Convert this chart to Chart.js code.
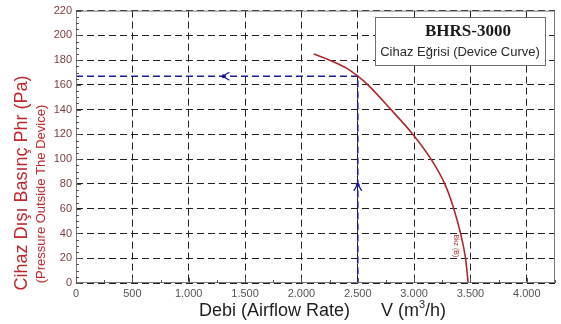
<!DOCTYPE html>
<html lang="tr">
<head>
  <meta charset="UTF-8">
  <title>BHRS-3000 Cihaz Eğrisi</title>
  <script src="https://cdn.jsdelivr.net/npm/chart.js"></script>
  <style>
    html, body { margin: 0; padding: 0; background: #ffffff; }
    #wrap { width: 561px; height: 324px; position: relative; }
  </style>
</head>
<body>
  <div id="wrap"><canvas id="chart"></canvas></div>

  <script>
    // cihaz egrisi (debi m3/h, basinc Pa)
    const curveFlow = [2110, 2250, 2400, 2500, 2590, 2795, 2990, 3150, 3272, 3352, 3412, 3456, 3480];
    const curvePressure = [185, 180, 173.5, 167, 160, 140, 120, 100, 80, 60, 40, 20, 0];

    // calisma noktasi
    const opFlow = [0, 2500, 2500];
    const opPressure = [167, 167, 0];
    const arrowLeft = [1300, 167];
    const arrowUp = [2500, 80];

    // eksen etiketleri
    const xTicks = [0, 500, 1000, 1500, 2000, 2500, 3000, 3500, 4000];
    const yTicks = [0, 20, 40, 60, 80, 100, 120, 140, 160, 180, 200, 220];
    const xMax = 4250, xMinor = 250;
    const yMax = 220, yMinor = 5;

    const redText = '#c0272d';
    const fmt = v => v.toLocaleString('de-DE');

    const extras = {
      id: 'extras',
      afterDatasetsDraw(chart) {
        const { ctx, chartArea: a, scales: { x, y } } = chart;
        ctx.save();
        // frame
        ctx.strokeStyle = '#7a7a7a';
        ctx.lineWidth = 1;
        ctx.setLineDash([]);
        ctx.strokeRect(a.left + 0.5, a.top + 0.5, a.right - a.left - 1, a.bottom - a.top - 1);
        // minor ticks
        ctx.strokeStyle = '#555';
        ctx.beginPath();
        for (let v = 0; v <= xMax; v += xMinor) {
          const px = Math.round(x.getPixelForValue(v)) + 0.5;
          const len = xTicks.includes(v) ? 5 : 3;
          ctx.moveTo(px, a.bottom); ctx.lineTo(px, a.bottom - len);
        }
        for (let v = 0; v <= yMax; v += yMinor) {
          const py = Math.round(y.getPixelForValue(v)) + 0.5;
          const len = yTicks.includes(v) ? 5 : 3;
          ctx.moveTo(a.left, py); ctx.lineTo(a.left + len, py);
        }
        ctx.stroke();

        // arrows on operating point lines
        ctx.strokeStyle = '#1c1c9a';
        ctx.fillStyle = '#1c1c9a';
        ctx.lineWidth = 1.3;
        let ax = x.getPixelForValue(arrowLeft[0]), ay = y.getPixelForValue(arrowLeft[1]);
        ctx.beginPath();
        ctx.moveTo(ax + 7, ay - 4); ctx.lineTo(ax, ay); ctx.lineTo(ax + 7, ay + 4);
        ctx.stroke();
        ctx.beginPath(); ctx.arc(ax + 1, ay, 2, 0, Math.PI * 2); ctx.fill();
        ax = x.getPixelForValue(arrowUp[0]); ay = y.getPixelForValue(arrowUp[1]);
        ctx.beginPath();
        ctx.moveTo(ax - 4, ay + 7); ctx.lineTo(ax, ay); ctx.lineTo(ax + 4, ay + 7);
        ctx.stroke();
        ctx.beginPath(); ctx.arc(ax, ay + 1, 2, 0, Math.PI * 2); ctx.fill();

        // small label next to curve
        ctx.save();
        ctx.translate(x.getPixelForValue(3370), y.getPixelForValue(30));
        ctx.rotate(Math.PI / 2);
        ctx.fillStyle = '#b03030';
        ctx.font = '7px "Liberation Sans"';
        ctx.textAlign = 'center';
        ctx.textBaseline = 'middle';
        ctx.fillText('Bkz (B)', 0, 0);
        ctx.restore();

        // legend box
        const bx = 375, by = 17, bw = 170, bh = 48;
        ctx.fillStyle = '#ffffff';
        ctx.fillRect(bx, by, bw, bh);
        ctx.strokeStyle = '#6e6e6e';
        ctx.lineWidth = 1;
        ctx.strokeRect(bx + 0.5, by + 0.5, bw, bh);
        ctx.textAlign = 'center';
        ctx.textBaseline = 'middle';
        ctx.fillStyle = '#1a1a1a';
        ctx.font = 'bold 17px "Liberation Serif"';
        ctx.fillText('BHRS-3000', bx + bw / 2 + 8, by + 15);
        ctx.font = '13px "Liberation Sans"';
        ctx.fillStyle = '#2a2a2a';
        ctx.fillText('Cihaz Eğrisi (Device Curve)', bx + bw / 2, by + 35);

        // axis titles
        ctx.fillStyle = redText;
        ctx.save();
        ctx.translate(22, 183);
        ctx.rotate(-Math.PI / 2);
        ctx.font = '18px "Liberation Sans"';
        ctx.fillText('Cihaz Dışı Basınç Phr (Pa)', 0, 0);
        ctx.restore();
        ctx.save();
        ctx.translate(41, 194);
        ctx.rotate(-Math.PI / 2);
        ctx.font = '13px "Liberation Sans"';
        ctx.fillText('(Pressure Outside The Device)', 0, 0);
        ctx.restore();

        ctx.fillStyle = '#1e1e1e';
        ctx.font = '18px "Liberation Sans"';
        ctx.textAlign = 'left';
        ctx.fillText('Debi (Airflow Rate)', 199, 311);
        ctx.fillText('V (m', 381, 311);
        const w = ctx.measureText('V (m').width;
        ctx.font = '11px "Liberation Sans"';
        ctx.fillText('3', 381 + w, 305);
        ctx.font = '18px "Liberation Sans"';
        ctx.fillText('/h)', 381 + w + 6, 311);
        ctx.restore();
      }
    };

    const ctx = document.getElementById('chart').getContext('2d');
    new Chart(ctx, {
      type: 'line',
      data: {
        datasets: [
          {
            label: 'Cihaz Eğrisi',
            data: curveFlow.map((f, i) => ({ x: f, y: curvePressure[i] })),
            borderColor: '#b3262c',
            borderWidth: 1.6,
            pointRadius: 0,
            cubicInterpolationMode: 'monotone',
            fill: false
          },
          {
            label: 'Çalışma noktası',
            data: opFlow.map((f, i) => ({ x: f, y: opPressure[i] })),
            borderColor: '#1c1c9a',
            borderWidth: 1.6,
            borderDash: [7, 4],
            pointRadius: 0,
            tension: 0,
            fill: false
          }
        ]
      },
      options: {
        responsive: true,
        maintainAspectRatio: false,
        animation: false,
        layout: { padding: { top: 2, right: 6, left: 0, bottom: 0 } },
        plugins: {
          legend: { display: false },
          tooltip: { enabled: false }
        },
        scales: {
          x: {
            type: 'linear',
            min: 0,
            max: xMax,
            afterFit: s => { s.height = 41; },
            afterBuildTicks: s => { s.ticks = xTicks.map(v => ({ value: v })); },
            ticks: {
              autoSkip: false,
              padding: 4,
              color: '#555555',
              font: { family: 'Liberation Sans', size: 11 },
              maxRotation: 0,
              callback: v => fmt(v)
            },
            grid: { color: '#222222', lineWidth: 1, drawTicks: false },
            border: { display: false, dash: [7, 4] }
          },
          y: {
            type: 'linear',
            min: 0,
            max: yMax,
            afterFit: s => { s.width = 76; },
            afterBuildTicks: s => { s.ticks = yTicks.map(v => ({ value: v })); },
            ticks: {
              autoSkip: false,
              padding: 4,
              color: '#7b3d3d',
              font: { family: 'Liberation Sans', size: 11 }
            },
            grid: { color: '#222222', lineWidth: 1, drawTicks: false },
            border: { display: false, dash: [7, 4] }
          }
        }
      },
      plugins: [extras]
    });
  </script>
</body>
</html>
